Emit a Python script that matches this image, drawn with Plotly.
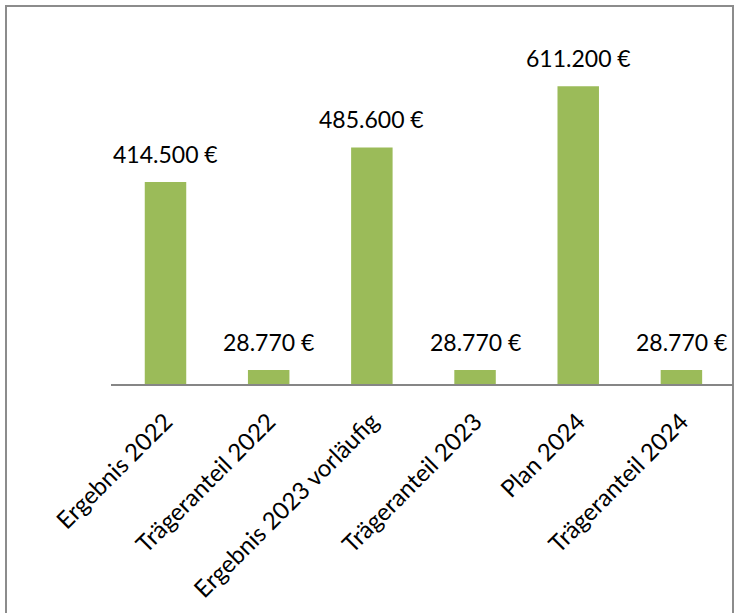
import plotly.graph_objects as go

categories = [
    "Ergebnis 2022",
    "Trägeranteil 2022",
    "Ergebnis 2023 vorläufig",
    "Trägeranteil 2023",
    "Plan 2024",
    "Trägeranteil 2024",
]
values = [414500, 28770, 485600, 28770, 611200, 28770]


def euro(v):
    return f"{v:,.0f}".replace(",", ".") + " €"


labels = [euro(v) for v in values]

BAR = "#9BBB59"
FONT = "Lato, Calibri, 'Open Sans', sans-serif"

# plot area in pixels (739 x 613 canvas)
L, R, T, B = 111, 6, 43, 229
PW = 739 - L - R
PH = 613 - T - B

fig = go.Figure(
    go.Bar(
        x=categories,
        y=values,
        marker=dict(color=BAR, line=dict(width=0)),
        hoverinfo="skip",
    )
)

for c, v, t in zip(categories, values, labels):
    fig.add_annotation(
        x=c, y=v, text=t, showarrow=False,
        yanchor="bottom", yshift=12,
        font=dict(family=FONT, size=23, color="#000000"),
    )

# chart frame
fig.add_shape(
    type="rect", xref="paper", yref="paper",
    x0=(6 - L) / PW, x1=(733 - L) / PW,
    y0=-(B + 20) / PH, y1=1 + (T - 6) / PH,
    line=dict(color="#8C8C8C", width=2), fillcolor="rgba(0,0,0,0)",
    layer="below",
)

fig.update_layout(
    width=739,
    height=613,
    margin=dict(l=L, r=R, t=T, b=B),
    paper_bgcolor="white",
    plot_bgcolor="white",
    bargap=0.598,
    showlegend=False,
)

fig.update_xaxes(
    showline=True, linecolor="#868686", linewidth=2,
    tickangle=-45, ticks="", ticklabelstandoff=12,
    tickfont=dict(family=FONT, size=24, color="#000000"),
    showgrid=False, zeroline=False,
)
fig.update_yaxes(
    range=[0, 700000], visible=False, showgrid=False, zeroline=False,
)

fig.write_html("out.html")
